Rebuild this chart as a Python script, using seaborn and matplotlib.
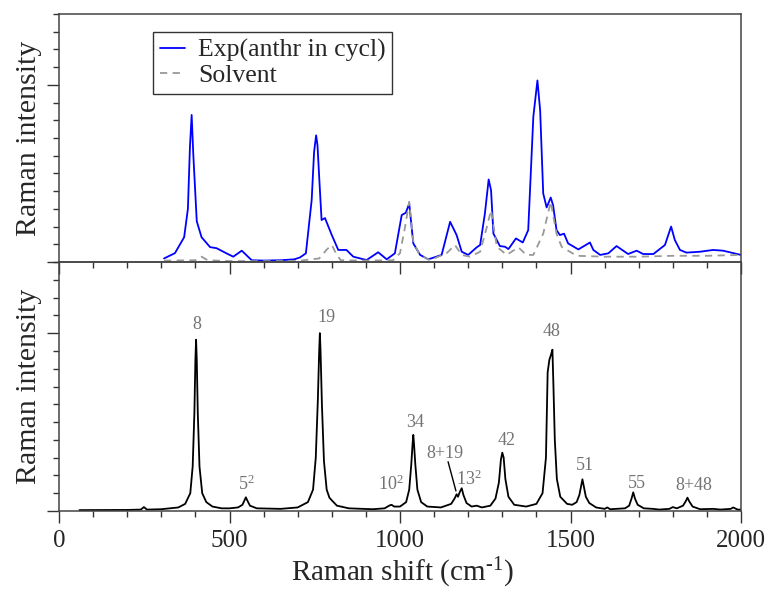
import numpy as np
import pandas as pd
import matplotlib
matplotlib.use("Agg")
import matplotlib.pyplot as plt
from matplotlib.ticker import MultipleLocator
import seaborn as sns

# ---------------- data ----------------
exp_x = [308, 340, 367, 378, 384, 389, 394, 404, 418, 443, 462, 490, 511, 536, 565, 600, 650, 690,
         707, 724, 741, 748, 754, 758, 763, 770, 780, 800, 819, 843, 863, 902, 936, 961, 985,
         1005, 1017, 1027, 1039, 1059, 1083, 1122, 1147, 1166, 1181, 1200, 1225, 1235, 1249,
         1260, 1267, 1274, 1293, 1308, 1318, 1340, 1360, 1376, 1391, 1403, 1411, 1420, 1430,
         1442, 1449, 1459, 1469, 1481, 1493, 1523, 1557, 1567, 1587, 1611, 1635, 1669, 1694,
         1713, 1743, 1777, 1795, 1806, 1821, 1840, 1880, 1918, 1947, 2000]
exp_y = [0.02, 0.05, 0.14, 0.30, 0.65, 0.83, 0.60, 0.23, 0.14, 0.084, 0.078, 0.05, 0.03, 0.064, 0.01, 0.008, 0.01, 0.015,
         0.026, 0.049, 0.35, 0.62, 0.715, 0.66, 0.48, 0.237, 0.248, 0.152, 0.068, 0.068, 0.03, 0.011, 0.055, 0.015, 0.049,
         0.265, 0.278, 0.33, 0.105, 0.04, 0.015, 0.04, 0.227, 0.152, 0.058, 0.04, 0.083, 0.096, 0.274,
         0.466, 0.405, 0.16, 0.09, 0.086, 0.073, 0.133, 0.11, 0.18, 0.82, 1.025, 0.856, 0.387, 0.308,
         0.364, 0.32, 0.18, 0.152, 0.16, 0.105, 0.071, 0.11, 0.068, 0.04, 0.049, 0.09, 0.045, 0.064,
         0.045, 0.045, 0.096, 0.20, 0.124, 0.068, 0.053, 0.058, 0.068, 0.064, 0.04]

solv_x = [308, 400, 418, 436, 500, 600, 700, 763, 785, 800, 812, 826, 900, 980, 1000, 1015, 1027,
          1039, 1055, 1069, 1088, 1137, 1161, 1181, 1205, 1235, 1255, 1267, 1284, 1313, 1347, 1371,
          1391, 1420, 1442, 1459, 1474, 1518, 1600, 1700, 1800, 1900, 2000]
solv_y = [0.008, 0.01, 0.03, 0.01, 0.005, 0.005, 0.006, 0.02, 0.07, 0.096, 0.05, 0.01, 0.008, 0.01, 0.05, 0.20, 0.34,
          0.117, 0.05, 0.03, 0.01, 0.05, 0.096, 0.04, 0.03, 0.058, 0.2, 0.293, 0.086, 0.04, 0.083, 0.04,
          0.04, 0.16, 0.34, 0.16, 0.086, 0.035, 0.03, 0.03, 0.035, 0.035, 0.04]

calc_x = [60, 200, 240, 249, 258, 300, 350, 370, 385, 392, 397, 400, 402, 404, 407, 412, 420, 432, 450,
          477, 500, 525, 538, 544, 548, 552, 560, 580, 650, 700, 730, 745, 753, 759, 763, 765, 767, 771,
          777, 785, 793, 800, 815, 850, 920, 955, 968, 975, 983, 1000, 1018, 1027, 1033, 1037, 1039,
          1041, 1045, 1051, 1062, 1080, 1120, 1150, 1160, 1166, 1170, 1176, 1181, 1186, 1195, 1210,
          1225, 1240, 1265, 1280, 1290, 1296, 1300, 1304, 1309, 1318, 1335, 1370, 1400, 1418, 1428,
          1433, 1438, 1443, 1447, 1450, 1454, 1460, 1470, 1490, 1505, 1518, 1526, 1531, 1535, 1539,
          1545, 1555, 1575, 1600, 1608, 1616, 1660, 1672, 1679, 1684, 1689, 1697, 1715, 1742, 1760,
          1790, 1800, 1812, 1830, 1838, 1843, 1848, 1858, 1880, 1918, 1940, 1970, 1977, 1990, 2000]
calc_y = [0.005, 0.006, 0.008, 0.022, 0.008, 0.01, 0.02, 0.04, 0.10, 0.25, 0.55, 0.85, 0.963, 0.85, 0.55, 0.25, 0.10, 0.05, 0.025,
          0.015, 0.015, 0.02, 0.035, 0.06, 0.077, 0.06, 0.03, 0.015, 0.012, 0.02, 0.05, 0.12, 0.30, 0.62, 0.90, 1.0, 0.90, 0.60,
          0.28, 0.12, 0.075, 0.06, 0.03, 0.015, 0.01, 0.015, 0.03, 0.035, 0.025, 0.025, 0.05, 0.12, 0.26, 0.38, 0.428,
          0.38, 0.26, 0.12, 0.05, 0.025, 0.02, 0.04, 0.07, 0.094, 0.08, 0.11, 0.128, 0.09, 0.045, 0.025,
          0.03, 0.02, 0.03, 0.07, 0.16, 0.29, 0.328, 0.30, 0.18, 0.08, 0.035, 0.025, 0.04, 0.10, 0.30,
          0.78, 0.85, 0.88, 0.907, 0.70, 0.40, 0.18, 0.08, 0.04, 0.035, 0.05, 0.09, 0.14, 0.178, 0.14,
          0.08, 0.045, 0.02, 0.012, 0.02, 0.01, 0.015, 0.03, 0.07, 0.105, 0.07, 0.035, 0.015, 0.012, 0.008,
          0.012, 0.022, 0.015, 0.03, 0.055, 0.075, 0.055, 0.025, 0.01, 0.012, 0.008, 0.012, 0.02, 0.008, 0.008]

peak_labels = ["8", "19", r"5$^{\mathrm{2}}$", r"10$^{\mathrm{2}}$", "34", r"13$^{\mathrm{2}}$",
               "42", "48", "51", "55", "8+48"]
peak_label_x = [405, 783, 550, 973, 1045, 1202, 1313, 1443, 1543, 1696, 1861]
peak_label_y = [1.026, 1.061, 0.118, 0.118, 0.475, 0.146, 0.372, 0.982, 0.231, 0.131, 0.118]

combo_label = "8+19"
combo_text_xy = (1132, 0.297)
combo_peak_xy = (1164, 0.113)

# ---------------- style ----------------
sns.set_style("ticks")
plt.rcParams["font.family"] = ["Liberation Serif", "DejaVu Serif"]
plt.rcParams["mathtext.fontset"] = "custom"
plt.rcParams["mathtext.rm"] = "Liberation Serif"
plt.rcParams["mathtext.it"] = "Liberation Serif:italic"
plt.rcParams["mathtext.bf"] = "Liberation Serif:bold"

W, H = 768, 589
fig = plt.figure(figsize=(W / 100, H / 100), dpi=100)
L, R = 59, 741
ax1 = fig.add_axes([L / W, 1 - 262 / H, (R - L) / W, (262 - 14) / H])
ax2 = fig.add_axes([L / W, 1 - 511 / H, (R - L) / W, (511 - 262) / H])
ax2.patch.set_alpha(0)

df_exp = pd.DataFrame({"x": exp_x, "y": exp_y})
df_solv = pd.DataFrame({"x": solv_x, "y": solv_y})
df_calc = pd.DataFrame({"x": calc_x, "y": calc_y})

sns.lineplot(data=df_exp, x="x", y="y", ax=ax1, color="#0000ff", lw=1.3,
             estimator=None, sort=False, label="Exp(anthr in cycl)")
sns.lineplot(data=df_solv, x="x", y="y", ax=ax1, color="#999999", lw=1.3,
             estimator=None, sort=False, label="Solvent", linestyle=(0, (4, 3)))
sns.lineplot(data=df_calc, x="x", y="y", ax=ax2, color="black", lw=1.3,
             estimator=None, sort=False)

for ax in (ax1, ax2):
    ax.set_xlim(0, 2000)
    ax.set_ylim(0, 1.4)
    ax.xaxis.set_major_locator(MultipleLocator(500))
    ax.xaxis.set_minor_locator(MultipleLocator(100))
    ax.yaxis.set_major_locator(MultipleLocator(1.0))
    ax.yaxis.set_minor_locator(MultipleLocator(0.1))
    ax.tick_params(which="major", direction="out", length=8.5, width=1, color="#333333",
                   labelsize=18, pad=5)
    ax.tick_params(which="minor", direction="out", length=4, width=1, color="#333333")
    ax.tick_params(axis="y", which="minor", length=4.3)
    ax.tick_params(axis="y", labelleft=False)
    for s in ax.spines.values():
        s.set_color("#444444")
        s.set_linewidth(1.1)
    ax.set_ylabel("Raman intensity", fontsize=21.5)
    ax.yaxis.set_label_coords(-0.025, 0.5)

ax1.tick_params(axis="x", labelbottom=False)
ax1.set_xlabel("")
ax2.set_xlabel(r"Raman shift (cm$^{\text{-1}}$)", fontsize=21)
ax2.xaxis.set_label_coords(0.503, -0.18)

leg = ax1.legend(loc="upper left", bbox_to_anchor=(0.138, 0.927), borderaxespad=0,
                 fontsize=18.5, frameon=True, fancybox=False, handlelength=1.0,
                 handletextpad=0.5, labelspacing=0.1, borderpad=0.25)
leg.get_frame().set_edgecolor("black")
leg.get_frame().set_linewidth(1.0)

for t, x, y in zip(peak_labels, peak_label_x, peak_label_y):
    ax2.text(x, y, t, fontsize=13, color="#737373", ha="center", va="baseline")

ax2.text(combo_text_xy[0], combo_text_xy[1], combo_label, fontsize=13, color="#737373",
         ha="center", va="baseline")
ax2.annotate("", xy=combo_peak_xy, xytext=(1141, 0.277),
             arrowprops=dict(arrowstyle="-", color="black", lw=1, shrinkA=0, shrinkB=0))

fig.savefig("out.png", dpi=100)
